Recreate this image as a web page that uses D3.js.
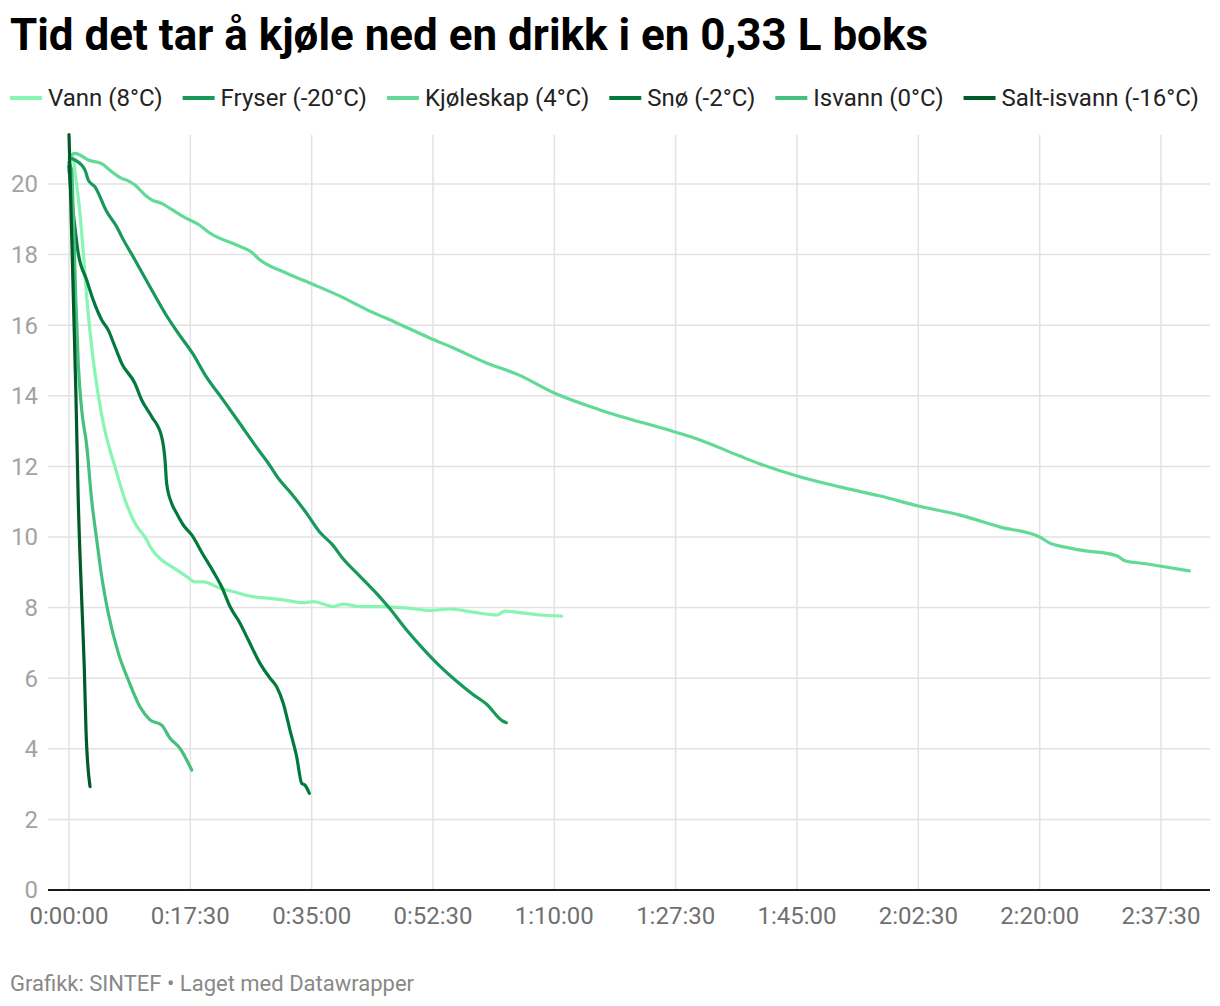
<!DOCTYPE html>
<html><head><meta charset="utf-8">
<script src="https://cdn.jsdelivr.net/npm/d3@7"></script>
<style>body{margin:0;background:#fff;} svg{display:block;font-family:Roboto,"Noto Sans",sans-serif;}</style>
</head><body><svg id="c" width="1220" height="1006"></svg>
<script>
const titleText = "Tid det tar å kjøle ned en drikk i en 0,33 L boks";
const footerText = "Grafikk: SINTEF • Laget med Datawrapper";
const seriesNames = ["Vann (8°C)", "Fryser (-20°C)", "Kjøleskap (4°C)", "Snø (-2°C)", "Isvann (0°C)", "Salt-isvann (-16°C)"];
const seriesColors = ["#88f5b2", "#17995b", "#62da97", "#037a3d", "#45c07f", "#005b29"];
const yTicks = [0, 2, 4, 6, 8, 10, 12, 14, 16, 18, 20];
const xTicks = [0, 1050, 2100, 3150, 4200, 5250, 6300, 7350, 8400, 9450];
const xTickLabels = ["0:00:00", "0:17:30", "0:35:00", "0:52:30", "1:10:00", "1:27:30", "1:45:00", "2:02:30", "2:20:00", "2:37:30"];

// [seconds, °C]
const vann = [[0,20.7],[30,20.78],[61,20.1],[95,19.17],[124,18.04],[153,16.81],[196,15.39],[240,14.3],[275,13.6],[312,13.0],[398,11.99],[485,11.05],[571,10.39],[672,9.92],[701,9.73],[802,9.35],[889,9.16],[1019,8.88],[1090,8.73],[1162,8.73],[1307,8.55],[1422,8.45],[1595,8.31],[1739,8.26],[1854,8.22],[2028,8.14],[2114,8.17],[2287,8.03],[2374,8.1],[2518,8.03],[2691,8.03],[2951,7.98],[3124,7.92],[3297,7.96],[3499,7.87],[3701,7.79],[3773,7.9],[3903,7.86],[4076,7.79],[4264,7.76]];
const fryser = [[0,20.5],[9,20.73],[52,20.68],[138,20.4],[167,20.11],[225,19.92],[326,19.22],[413,18.79],[456,18.51],[571,17.85],[716,17.0],[831,16.34],[946,15.77],[1070,15.2],[1186,14.55],[1330,13.9],[1460,13.3],[1648,12.43],[1720,12.11],[1821,11.62],[1922,11.24],[2052,10.69],[2167,10.15],[2283,9.77],[2370,9.39],[2514,8.9],[2659,8.41],[2774,7.98],[2918,7.38],[3063,6.84],[3207,6.35],[3352,5.92],[3496,5.54],[3612,5.27],[3756,4.78],[3785,4.74]];
const kjoleskap = [[0,20.35],[9,20.77],[52,20.87],[95,20.82],[167,20.68],[282,20.58],[369,20.35],[455,20.16],[499,20.11],[571,19.97],[658,19.69],[716,19.55],[802,19.45],[874,19.31],[1004,19.05],[1128,18.84],[1215,18.62],[1475,18.24],[1576,18.08],[1648,17.86],[1879,17.48],[2110,17.16],[2341,16.83],[2572,16.45],[2832,16.07],[3121,15.64],[3323,15.36],[3612,14.93],[3886,14.6],[4200,14.08],[4595,13.6],[5250,12.97],[5460,12.75],[5800,12.3],[5980,12.07],[6300,11.73],[6670,11.42],[7020,11.16],[7350,10.88],[7710,10.62],[8060,10.28],[8400,10.0],[8493,9.82],[8610,9.72],[8812,9.6],[8957,9.55],[9072,9.46],[9144,9.32],[9303,9.25],[9398,9.2],[9695,9.04]];
const sno = [[0,20.5],[15,19.8],[37,19.17],[80,18.04],[153,17.28],[210,16.71],[283,16.15],[340,15.86],[398,15.39],[456,14.92],[571,14.35],[629,13.88],[716,13.41],[802,12.84],[831,12.18],[845,11.52],[889,10.95],[932,10.67],[989,10.34],[1062,10.06],[1162,9.49],[1249,9.02],[1321,8.59],[1393,8.03],[1480,7.56],[1552,7.08],[1653,6.42],[1740,6.0],[1797,5.76],[1854,5.29],[1912,4.53],[1970,3.78],[2014,3.02],[2042,2.97],[2080,2.74]];
const isvann = [[0,20.6],[23,20.4],[37,19.17],[58,16.81],[80,14.92],[110,13.6],[153,12.6],[196,11.05],[240,9.92],[283,8.88],[340,7.84],[427,6.71],[513,5.95],[614,5.19],[701,4.82],[802,4.67],[874,4.3],[961,4.01],[1062,3.4]];
const saltIsvann = [[0,21.4],[20,18.95],[40,16.5],[60,14.0],[80,11.05],[110,8.22],[132,6.33],[147,4.53],[182,2.93]];

const seriesData = [vann, fryser, kjoleskap, sno, isvann, saltIsvann];

const svg = d3.select("#c");
const x = d3.scaleLinear().domain([0, 9874]).range([69, 1210]);
const y = d3.scaleLinear().domain([0, 21.4]).range([890, 134.6]);

// title
svg.append("text").attr("x", 10).attr("y", 50).text(titleText)
  .attr("font-size", 44).attr("font-weight", 700).attr("fill", "#000")
  .attr("textLength", 918).attr("lengthAdjust", "spacingAndGlyphs");

// legend
let lx = 10;
seriesNames.forEach((n, i) => {
  const g = svg.append("g");
  g.append("line").attr("x1", lx).attr("x2", lx + 32).attr("y1", 98).attr("y2", 98)
    .attr("stroke", seriesColors[i]).attr("stroke-width", 4);
  const t = g.append("text").attr("x", lx + 38).attr("y", 98).attr("dy", "0.35em")
    .attr("font-size", 24).attr("fill", "#222").text(n);
  lx += 38 + t.node().getComputedTextLength() + 20;
});

// grid
svg.append("g").selectAll("line").data(yTicks.filter(d => d > 0)).join("line")
  .attr("x1", 48).attr("x2", 1210).attr("y1", d => y(d)).attr("y2", d => y(d))
  .attr("stroke", "#e2e2e2").attr("stroke-width", 1.5);
svg.append("g").selectAll("line").data(xTicks).join("line")
  .attr("x1", d => x(d)).attr("x2", d => x(d)).attr("y1", 135).attr("y2", 890)
  .attr("stroke", "#e2e2e2").attr("stroke-width", 1.5);

// y labels
svg.append("g").selectAll("text").data(yTicks).join("text")
  .attr("x", 38).attr("y", d => y(d)).attr("dy", "0.35em").attr("text-anchor", "end")
  .attr("font-size", 24).attr("fill", "#a3a3a3").text(d => d);

// x labels
svg.append("g").selectAll("text").data(xTicks).join("text")
  .attr("x", d => x(d)).attr("y", 916).attr("dy", "0.35em").attr("text-anchor", "middle")
  .attr("font-size", 24).attr("fill", "#707070").text((d, i) => xTickLabels[i]);

// baseline
svg.append("line").attr("x1", 48).attr("x2", 1210).attr("y1", y(0)).attr("y2", y(0))
  .attr("stroke", "#1a1a1a").attr("stroke-width", 2);

// lines
const line = d3.line().x(d => x(d[0])).y(d => y(d[1])).curve(d3.curveMonotoneX);
svg.append("g").selectAll("path").data(seriesData).join("path")
  .attr("d", line).attr("fill", "none")
  .attr("stroke", (d, i) => seriesColors[i]).attr("stroke-width", 3.2)
  .attr("stroke-linejoin", "round").attr("stroke-linecap", "round");

// footer
svg.append("text").attr("x", 10).attr("y", 983).attr("dy", "0.35em")
  .attr("font-size", 22).attr("fill", "#888").text(footerText);
</script>
</body></html>
